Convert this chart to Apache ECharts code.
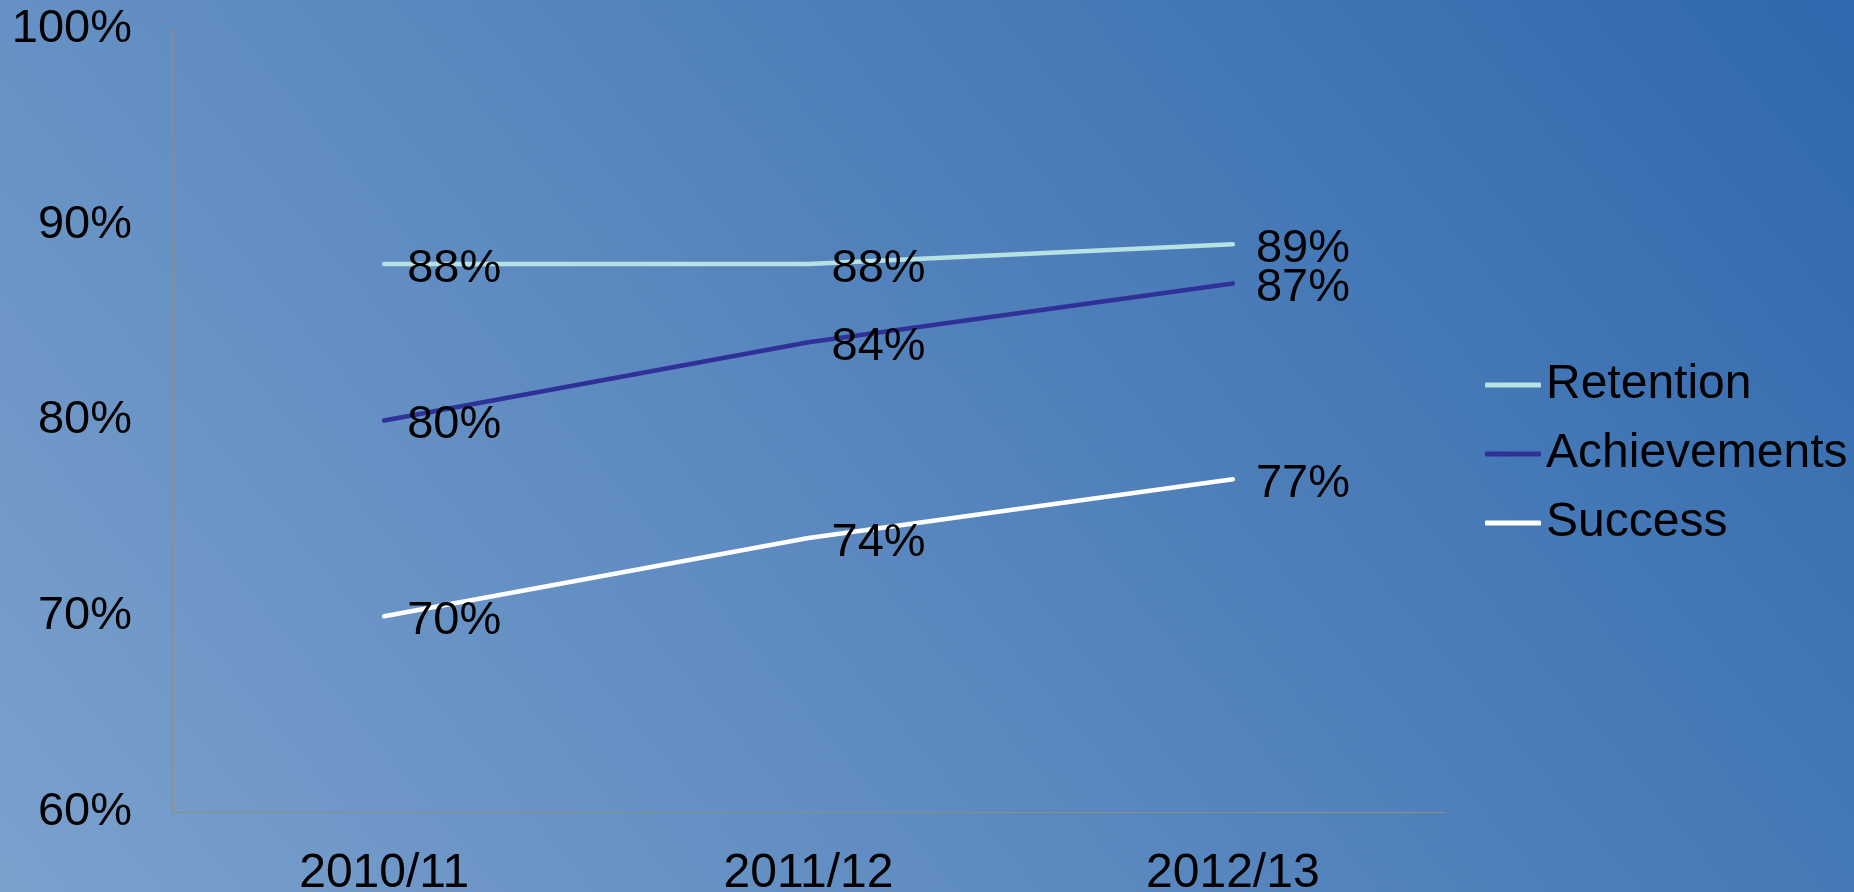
<!DOCTYPE html>
<html>
<head>
<meta charset="utf-8">
<style>
  html, body { margin: 0; padding: 0; }
  #chart { width: 1854px; height: 892px; }
</style>
<script src="https://cdn.jsdelivr.net/npm/echarts@6/dist/echarts.min.js"></script>
</head>
<body>
<div id="chart"></div>
<script>
const categories = ['2010/11', '2011/12', '2012/13'];
const retention = [88, 88, 89];
const achievements = [80, 84, 87];
const success = [70, 74, 77];
const seriesNames = ['Retention', 'Achievements', 'Success'];
const seriesColors = ['#b6e2e4', '#2f3098', '#ffffff'];

const chart = echarts.init(document.getElementById('chart'));
const font = '"Liberation Sans", Arial, sans-serif';

function makeSeries(name, data, color) {
  return {
    name: name,
    type: 'line',
    data: data,
    symbol: 'circle',
    symbolSize: 0.1,
    showSymbol: true,
    itemStyle: { color: color },
    lineStyle: { color: color, width: 4.5, cap: 'round', join: 'round' },
    label: {
      show: true,
      position: 'right',
      distance: 23,
      offset: [0, 5],
      color: '#000',
      fontFamily: font,
      fontSize: 47,
      formatter: p => p.value + '%'
    },
    emphasis: { disabled: true },
    animation: false
  };
}

chart.setOption({
  backgroundColor: {
    type: 'linear', x: 0, y: 892, x2: 1527, y2: -389, global: true,
    colorStops: [
      { offset: 0, color: '#7ba1cd' },
      { offset: 1, color: '#3068ad' }
    ]
  },
  animation: false,
  grid: { left: 172, right: 409, top: 29, bottom: 80, containLabel: false, outerBoundsMode: 'none' },
  legend: {
    orient: 'vertical',
    left: 1480,
    top: 356,
    itemWidth: 56,
    itemHeight: 5,
    itemGap: 21,
    textStyle: { color: '#000', fontFamily: font, fontSize: 48, padding: [6, 0, 0, 0] },
    data: seriesNames.map((n, i) => ({ name: n, icon: 'roundRect', itemStyle: { color: seriesColors[i] } }))
  },
  xAxis: {
    type: 'category',
    data: categories,
    boundaryGap: true,
    axisLine: { lineStyle: { color: '#8c8c8c', width: 1 } },
    axisTick: { show: false },
    axisLabel: { color: '#000', fontFamily: font, fontSize: 48, margin: 38 },
    splitLine: { show: false }
  },
  yAxis: {
    type: 'value',
    min: 60, max: 100, interval: 10,
    axisLine: { show: true, lineStyle: { color: '#8c8c8c', width: 1 } },
    axisTick: { show: false },
    splitLine: { show: false },
    axisLabel: { color: '#000', fontFamily: font, fontSize: 47, margin: 40, padding: [10, 0, 0, 0], formatter: v => v + '%' }
  },
  series: [
    makeSeries(seriesNames[0], retention, seriesColors[0]),
    makeSeries(seriesNames[1], achievements, seriesColors[1]),
    makeSeries(seriesNames[2], success, seriesColors[2])
  ]
});
</script>
</body>
</html>
